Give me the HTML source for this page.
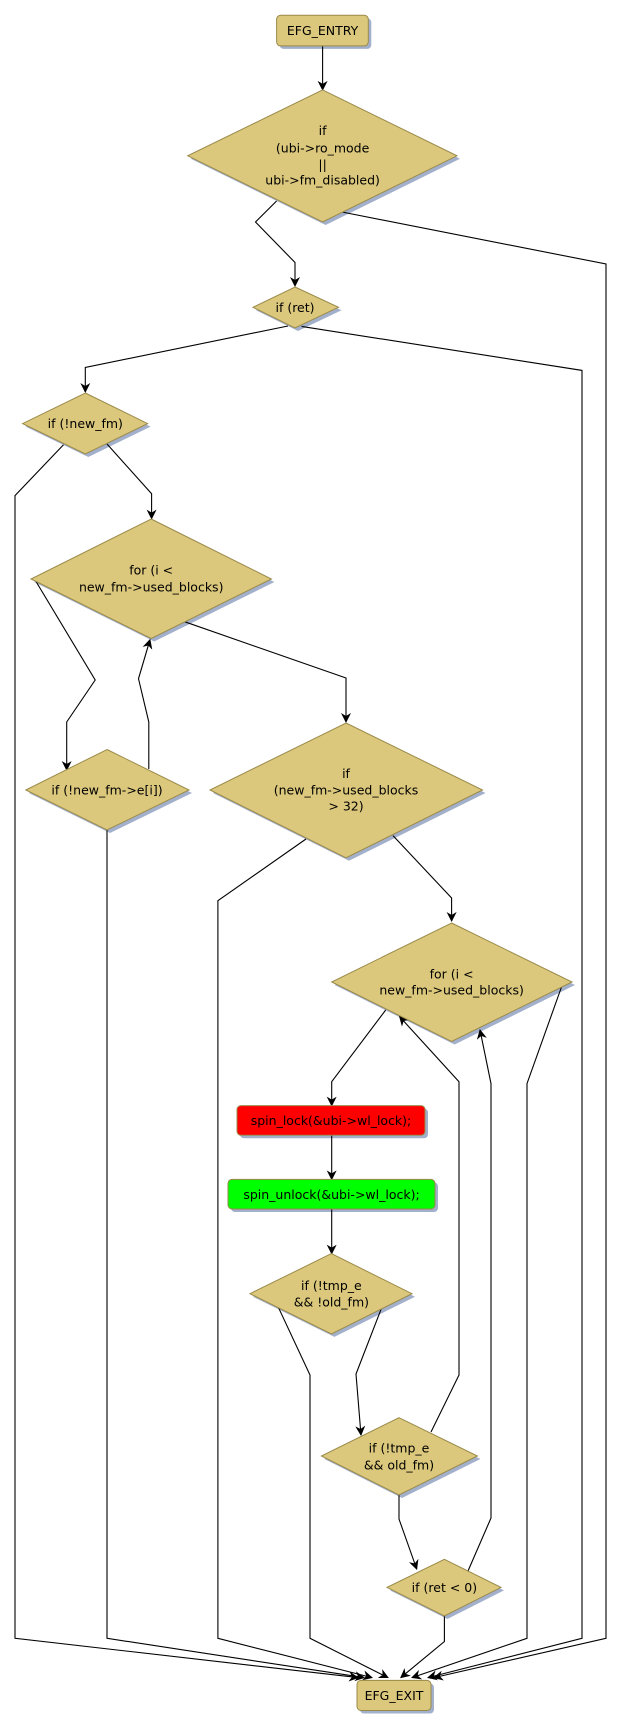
<!DOCTYPE html>
<html><head><meta charset="utf-8"><style>
html,body{margin:0;padding:0;background:#fff;}
svg{display:block;}
text{font-family:"DejaVu Sans","Liberation Sans",sans-serif;font-size:12.5px;fill:#000;text-anchor:middle;}
.n{fill:#dbc87c;stroke:#9a8a4a;stroke-width:1;}
.s{fill:#a3b0cc;}
.e{fill:none;stroke:#000;stroke-width:1.1;}
</style></head><body>
<svg width="618" height="1729" viewBox="0 0 618 1729" xmlns="http://www.w3.org/2000/svg">
<defs>
<marker id="a" markerWidth="10" markerHeight="10" refX="9" refY="5" orient="auto" markerUnits="userSpaceOnUse">
<path d="M0,0 L10,5 L0,10 L3,5 z" fill="#000"/>
</marker>
</defs>

<g class="s">
<rect x="279.6" y="18.3" width="91.7" height="30.6" rx="4"/>
<polygon points="325.6,92.9 460,158.8 325.6,225 190.7,158.8"/>
<polygon points="298,290 341.5,310.3 298,331 256,310.3"/>
<polygon points="88.3,396 150.6,426.6 88.3,457 25.6,426.6"/>
<polygon points="154.2,522 274.4,582 154.2,641.5 34,582"/>
<polygon points="110,752.5 192,793 110,833 28.8,793"/>
<polygon points="349,726 485.5,793 349,860.8 213,793"/>
<polygon points="454.6,926 575,985 454.6,1044.5 334.7,985"/>
<rect x="240" y="1108.6" width="188" height="29.7" rx="4"/>
<rect x="231" y="1182.4" width="207" height="29.6" rx="4"/>
<polygon points="334.4,1256.6 415,1296.7 334.4,1336.9 253,1296.7"/>
<polygon points="402,1420.7 480.4,1459 402,1498 324.4,1459"/>
<polygon points="447.4,1562.3 504,1590.4 447.4,1619 390,1590.4"/>
<rect x="360" y="1683.4" width="74" height="30.1" rx="4"/>
</g>

<g class="e">
<path d="M322.6,45.9 L322.6,89.9" marker-end="url(#a)"/>
<path d="M276.6,201 L255.5,222 L295,262.5 L295,286" marker-end="url(#a)"/>
<path d="M342,212 L606,264 L606,1638.3 L434,1677.6" marker-end="url(#a)"/>
<path d="M288,326 L85.3,367.4 L85.3,392" marker-end="url(#a)"/>
<path d="M301.6,326.4 L582,370.4 L582,1638.3 L428,1677.6" marker-end="url(#a)"/>
<path d="M63.5,444.7 L15,495.6 L15,1638.3 L358,1677.6" marker-end="url(#a)"/>
<path d="M107,444 L151.6,493.7 L151.6,518.6" marker-end="url(#a)"/>
<path d="M35.7,581 L95.2,680 L66.7,722 L66.7,770" marker-end="url(#a)"/>
<path d="M148.8,769 L148.8,722 L138.5,678.7 L150,639.7" marker-end="url(#a)"/>
<path d="M107,830 L107,1638.3 L364,1677.6" marker-end="url(#a)"/>
<path d="M184.5,621.7 L346,678 L346,722" marker-end="url(#a)"/>
<path d="M306,839 L217.9,900.7 L217.9,1638.3 L372,1677.6" marker-end="url(#a)"/>
<path d="M393,835.6 L451.6,898 L451.6,921" marker-end="url(#a)"/>
<path d="M561.5,987 L527,1083.6 L527,1638.3 L412,1677.6" marker-end="url(#a)"/>
<path d="M385.7,1010 L331.7,1081.7 L331.7,1105.6" marker-end="url(#a)"/>
<path d="M331.7,1135.3 L331.7,1179.4" marker-end="url(#a)"/>
<path d="M331.7,1209 L331.7,1253.6" marker-end="url(#a)"/>
<path d="M278.6,1307.8 L310,1375 L310,1638.3 L388,1677.6" marker-end="url(#a)"/>
<path d="M381,1309.4 L356,1374 L361,1435" marker-end="url(#a)"/>
<path d="M431,1432 L459,1375 L459,1081.7 L399.6,1016.6" marker-end="url(#a)"/>
<path d="M399,1495 L399,1519 L416.7,1569" marker-end="url(#a)"/>
<path d="M468,1571 L491,1518 L491,1083.6 L480,1030" marker-end="url(#a)"/>
<path d="M444.4,1616 L444.4,1641.5 L400.8,1677.6" marker-end="url(#a)"/>
</g>

<rect class="n" x="276.6" y="15.3" width="91.7" height="30.6" rx="4"/>
<text x="322.6" y="35">EFG_ENTRY</text>

<polygon class="n" points="322.6,89.9 457,155.8 322.6,222 187.7,155.8"/>
<text x="322.6" y="135">if</text>
<text x="322.6" y="152.5">(ubi-&gt;ro_mode</text>
<text x="322.6" y="169">||</text>
<text x="322.6" y="184.5">ubi-&gt;fm_disabled)</text>

<polygon class="n" points="295,287 338.5,307.3 295,328 253,307.3"/>
<text x="295" y="311.8">if (ret)</text>

<polygon class="n" points="85.3,393 147.6,423.6 85.3,454 22.6,423.6"/>
<text x="85.3" y="428">if (!new_fm)</text>

<polygon class="n" points="151.2,519 271.4,579 151.2,638.5 31,579"/>
<text x="151.2" y="574.5">for (i &lt;</text>
<text x="151.2" y="591.5">new_fm-&gt;used_blocks)</text>

<polygon class="n" points="107,749.5 189,790 107,830 25.8,790"/>
<text x="107" y="794.5">if (!new_fm-&gt;e[i])</text>

<polygon class="n" points="346,723 482.5,790 346,857.8 210,790"/>
<text x="346" y="778">if</text>
<text x="346" y="794.5">(new_fm-&gt;used_blocks</text>
<text x="346" y="810.5">&gt; 32)</text>

<polygon class="n" points="451.6,923 572,982 451.6,1041.5 331.7,982"/>
<text x="451.6" y="978.3">for (i &lt;</text>
<text x="451.6" y="994.4">new_fm-&gt;used_blocks)</text>

<rect x="237" y="1105.6" width="188" height="29.7" rx="4" fill="#ff0000" stroke="#9a8a4a"/>
<text x="331" y="1125">spin_lock(&amp;ubi-&gt;wl_lock);</text>

<rect x="228" y="1179.4" width="207" height="29.6" rx="4" fill="#00ff00" stroke="#9a8a4a"/>
<text x="331.5" y="1198.8">spin_unlock(&amp;ubi-&gt;wl_lock);</text>

<polygon class="n" points="331.4,1253.6 412,1293.7 331.4,1333.9 250,1293.7"/>
<text x="331.4" y="1290.2">if (!tmp_e</text>
<text x="331.4" y="1306.3">&amp;&amp; !old_fm)</text>

<polygon class="n" points="399,1417.7 477.4,1456 399,1495 321.4,1456"/>
<text x="399" y="1452.5">if (!tmp_e</text>
<text x="399" y="1469.5">&amp;&amp; old_fm)</text>

<polygon class="n" points="444.4,1559.3 501,1587.4 444.4,1616 387,1587.4"/>
<text x="444.4" y="1592">if (ret &lt; 0)</text>

<rect class="n" x="357" y="1680.4" width="74" height="30.1" rx="4"/>
<text x="394" y="1700">EFG_EXIT</text>
</svg>
</body></html>
